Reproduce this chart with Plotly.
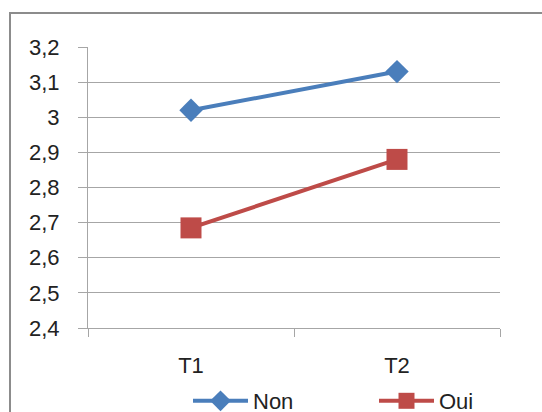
import plotly.graph_objects as go

categories = ["T1", "T2"]
non_values = [3.02, 3.13]
oui_values = [2.685, 2.88]
y_ticks = [2.4, 2.5, 2.6, 2.7, 2.8, 2.9, 3.0, 3.1, 3.2]
y_tick_labels = ["2,4", "2,5", "2,6", "2,7", "2,8", "2,9", "3", "3,1", "3,2"]

BLUE = "#4A7EBB"
RED = "#BE4B48"
GRID = "#A6A6A6"
FONT = "Liberation Sans, Arial, sans-serif"

fig = go.Figure()
fig.add_trace(go.Scatter(
    x=categories, y=non_values, name="Non", mode="lines+markers",
    line=dict(color=BLUE, width=4),
    marker=dict(symbol="diamond", size=18, color=BLUE),
    legend="legend",
))
fig.add_trace(go.Scatter(
    x=categories, y=oui_values, name="Oui", mode="lines+markers",
    line=dict(color=RED, width=4),
    marker=dict(symbol="square", size=21, color=RED),
    legend="legend2",
))

legend_common = dict(
    orientation="h", xref="container", yref="container",
    yanchor="middle", xanchor="left",
    itemwidth=55, font=dict(size=22, family=FONT, color="#222222"),
    itemsizing="trace", bgcolor="rgba(0,0,0,0)",
)

fig.update_layout(
    width=542, height=412,
    margin=dict(l=88, r=42, t=47, b=84, autoexpand=False),
    paper_bgcolor="white", plot_bgcolor="white",
    font=dict(family=FONT, size=22, color="#222222"),
    showlegend=True,
    legend=dict(x=(196 - 8) / 542, y=(412 - 401) / 412, **legend_common),
    legend2=dict(x=(382 - 8) / 542, y=(412 - 401) / 412, **legend_common),
    xaxis=dict(
        type="category", range=[-0.5, 1.5],
        tickson="boundaries", ticks="outside", ticklen=8, tickcolor=GRID,
        showgrid=False, showline=True, linecolor=GRID, linewidth=1,
        ticklabelstandoff=18, tickfont=dict(size=22),
    ),
    yaxis=dict(
        range=[2.4, 3.2], tickvals=y_ticks, ticktext=y_tick_labels,
        ticks="outside", ticklen=9, tickcolor=GRID,
        showgrid=True, gridcolor=GRID, gridwidth=1,
        showline=True, linecolor=GRID, linewidth=1,
        zeroline=False, ticklabelstandoff=14, tickfont=dict(size=22),
    ),
    shapes=[dict(
        type="rect", xref="paper", yref="paper",
        x0=(10 - 88) / 412, x1=(560 - 88) / 412,
        y0=(328 - 430) / 281, y1=1 + (47 - 13) / 281,
        line=dict(color="#8C8C8C", width=2), fillcolor="rgba(0,0,0,0)",
        layer="below",
    )],
)

fig.write_html(
    "out.html",
    config={"displayModeBar": False},
    post_script="document.body.style.margin='0';document.body.style.overflow='hidden';",
)
